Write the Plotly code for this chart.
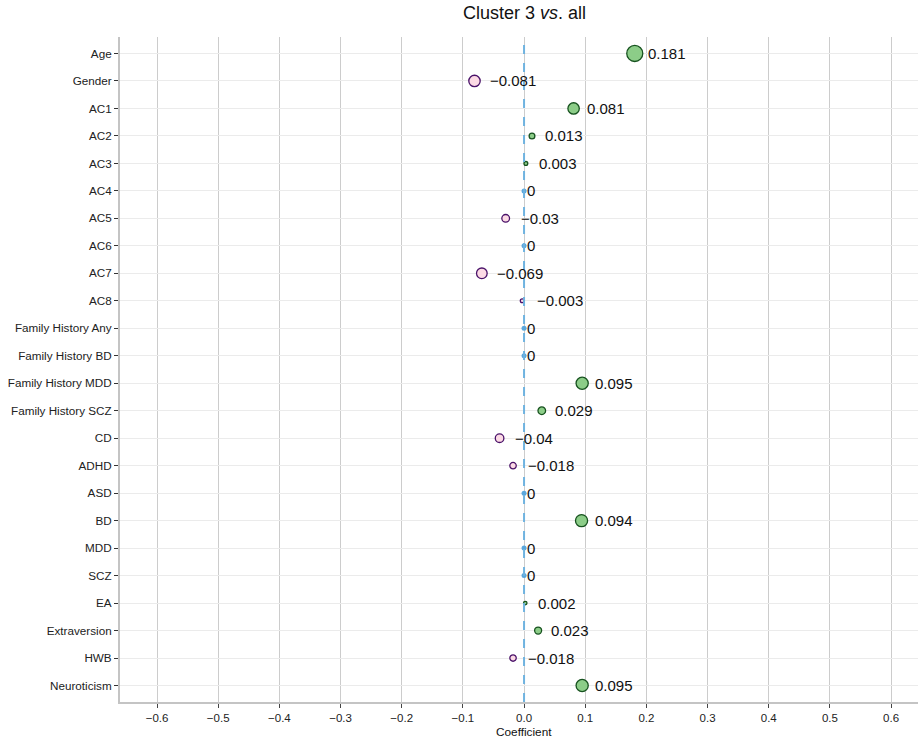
import plotly.graph_objects as go

# Predictors (top to bottom) and their coefficients for cluster 3 vs. all
features = [
    "Age", "Gender", "AC1", "AC2", "AC3", "AC4", "AC5", "AC6", "AC7", "AC8",
    "Family History Any", "Family History BD", "Family History MDD",
    "Family History SCZ", "CD", "ADHD", "ASD", "BD", "MDD", "SCZ", "EA",
    "Extraversion", "HWB", "Neuroticism",
]
coefficients = [
    0.181, -0.081, 0.081, 0.013, 0.003, 0, -0.03, 0, -0.069, -0.003,
    0, 0, 0.095, 0.029, -0.04, -0.018, 0, 0.094, 0, 0, 0.002,
    0.023, -0.018, 0.095,
]
x_ticks = [-0.6, -0.5, -0.4, -0.3, -0.2, -0.1, 0.0, 0.1, 0.2, 0.3, 0.4, 0.5, 0.6]
x_tick_text = [("−" if t < 0 else "") + f"{abs(t):.1f}" for t in x_ticks]

POS_FILL, POS_LINE = "#8ccd88", "#17521f"
NEG_FILL, NEG_LINE = "#fcdae5", "#4a1269"
ZERO_COL = "#5aa7dd"


def fmt(v):
    if v == 0:
        return "0"
    s = f"{abs(v):.3f}".rstrip("0").rstrip(".")
    return ("−" if v < 0 else "") + s


def marker_size(v):
    return 2 + 33 * abs(v) ** 0.5


fig = go.Figure()

# reference line at zero
fig.add_shape(type="line", x0=0, x1=0, y0=0, y1=1, xref="x", yref="paper",
              line=dict(color="#6fb3e0", width=2, dash="dash"), layer="above")

groups = [
    ([i for i, v in enumerate(coefficients) if v > 0], POS_FILL, POS_LINE),
    ([i for i, v in enumerate(coefficients) if v < 0], NEG_FILL, NEG_LINE),
]
for idx, fill, line in groups:
    fig.add_trace(go.Scatter(
        x=[coefficients[i] for i in idx],
        y=[features[i] for i in idx],
        mode="markers",
        marker=dict(size=[marker_size(coefficients[i]) for i in idx],
                    color=fill, opacity=1, line=dict(color=line, width=1.3)),
        showlegend=False, hoverinfo="x+y",
    ))

zero_idx = [i for i, v in enumerate(coefficients) if v == 0]
fig.add_trace(go.Scatter(
    x=[coefficients[i] for i in zero_idx],
    y=[features[i] for i in zero_idx],
    mode="markers",
    marker=dict(size=5, color=ZERO_COL),
    showlegend=False, hoverinfo="x+y",
))

# value labels
for f, v in zip(features, coefficients):
    if v == 0:
        shift = 1
    elif v > 0:
        shift = 11
    else:
        shift = 13
    fig.add_annotation(x=v, y=f, text=fmt(v), showarrow=False,
                       xanchor="left", yanchor="middle", xshift=shift,
                       font=dict(size=15, color="#111111"))

# title and axis title
fig.add_annotation(x=0, y=1, xref="x", yref="paper", yshift=24,
                   text="Cluster 3 <i>vs</i>. all", showarrow=False,
                   xanchor="center", yanchor="middle",
                   font=dict(size=18, color="#111111"))
fig.add_annotation(x=0, y=0, xref="x", yref="paper", yshift=-30,
                   text="Coefficient", showarrow=False,
                   xanchor="center", yanchor="middle",
                   font=dict(size=11.8, color="#111111"))

fig.update_layout(
    width=918, height=738,
    margin=dict(l=120, r=0, t=37, b=36),
    paper_bgcolor="white", plot_bgcolor="white",
    font=dict(family="Liberation Sans, Arial, sans-serif", color="#222222"),
    xaxis=dict(
        range=[-0.6605, 0.644], tickvals=x_ticks, ticktext=x_tick_text,
        showgrid=True, gridcolor="#cccccc", gridwidth=1,
        zeroline=False, showline=True, linecolor="#c4c4c4", linewidth=2,
        ticks="outside", ticklen=4, tickcolor="#444444", tickwidth=1,
        tickfont=dict(size=11.5, color="#222222"),
    ),
    yaxis=dict(
        type="category", categoryorder="array", categoryarray=features,
        range=[23.6, -0.6],
        showgrid=True, gridcolor="#ebebeb", gridwidth=1,
        zeroline=False, showline=True, linecolor="#c4c4c4", linewidth=2,
        ticks="outside", ticklen=4, tickcolor="#333333", tickwidth=1,
        tickfont=dict(size=11.7, color="#222222"),
    ),
)

fig.write_html("out.html")
